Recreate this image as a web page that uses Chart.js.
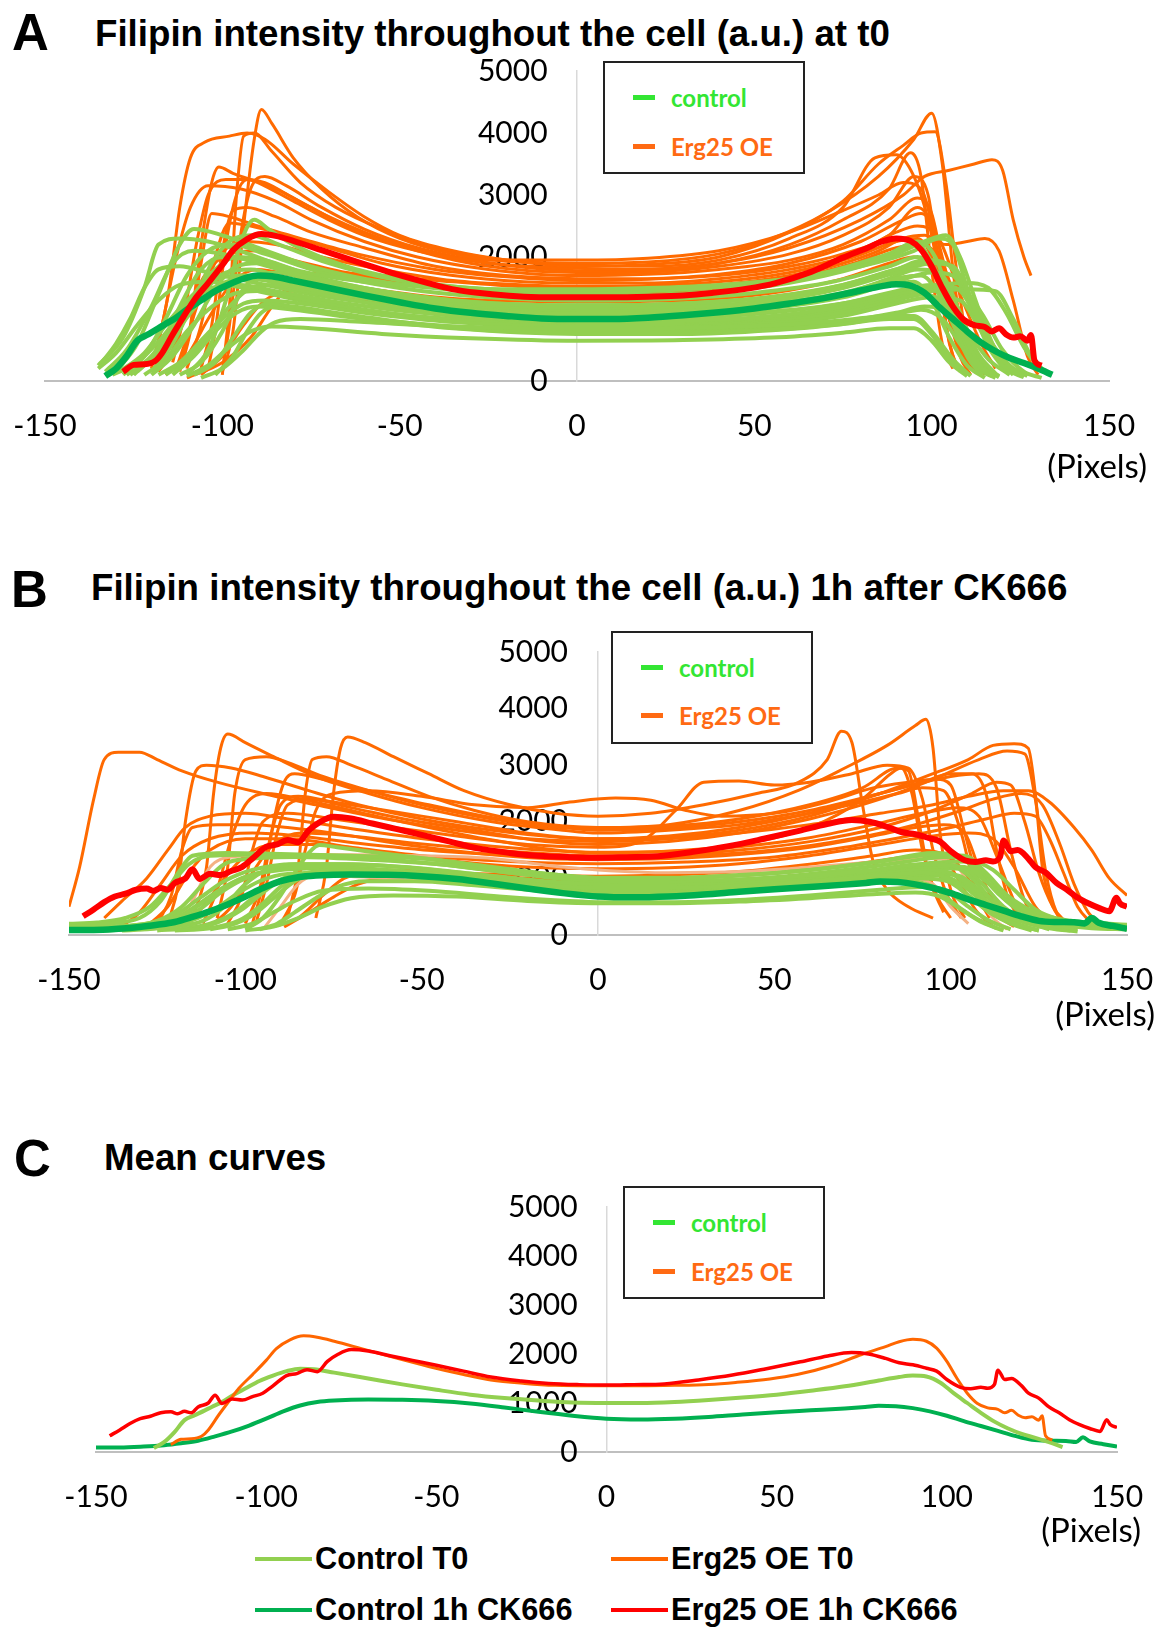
<!DOCTYPE html>
<html>
<head>
<meta charset="utf-8">
<script src="https://cdn.jsdelivr.net/npm/chart.js@4.4.1/dist/chart.umd.min.js"></script>
<style>
  body { margin: 0; background: #fff; }
  #page { position: relative; width: 1157px; height: 1627px; overflow: hidden; background: #fff; }
  #page > * { position: absolute; }
  .letter { font: bold 51px "Liberation Sans", Arial, sans-serif; line-height: 1; color: #000; }
  .title { font: bold 36.7px "Liberation Sans", Arial, sans-serif; line-height: 1; white-space: nowrap; color: #000; }
  .pixels { font: 33px Lato, sans-serif; line-height: 1; color: #000; }
  .legbox { box-sizing: border-box; width: 202px; height: 113px; border: 2px solid #222; background: #fff; }
  .legrow { position: absolute; left: 28px; height: 30px; display: flex; align-items: center; font: bold 24px Lato, sans-serif; white-space: nowrap; }
  .legrow .dash { width: 22px; height: 5px; margin-right: 16px; }
  .keyline { height: 4px; width: 57px; }
  .keytext { font: bold 30.7px "Liberation Sans", Arial, sans-serif; line-height: 1; white-space: nowrap; color: #000; }
</style>
</head>
<body>
<div id="page">
  <div class="letter" style="left:12px;top:7px">A</div>
  <div class="title" style="left:95px;top:16px">Filipin intensity throughout the cell (a.u.) at t0</div>
  <canvas id="chartA" width="1217" height="400" style="left:-30px;top:50px"></canvas>
  <div class="legbox" style="left:603px;top:61px">
    <div class="legrow" style="top:19px;color:#33e633"><span class="dash" style="background:#33e633"></span>control</div>
    <div class="legrow" style="top:68px;color:#ff6a13"><span class="dash" style="background:#ff6a13"></span>Erg25 OE</div>
  </div>
  <div class="pixels" style="right:10px;top:449px">(Pixels)</div>

  <div class="letter" style="left:11px;top:564px">B</div>
  <div class="title" style="left:91px;top:570px">Filipin intensity throughout the cell (a.u.) 1h after CK666</div>
  <canvas id="chartB" width="1217" height="400" style="left:-30px;top:610px"></canvas>
  <div class="legbox" style="left:611px;top:631px">
    <div class="legrow" style="top:19px;color:#33e633"><span class="dash" style="background:#33e633"></span>control</div>
    <div class="legrow" style="top:67px;color:#ff6a13"><span class="dash" style="background:#ff6a13"></span>Erg25 OE</div>
  </div>
  <div class="pixels" style="right:2px;top:997px">(Pixels)</div>

  <div class="letter" style="left:14px;top:1133px">C</div>
  <div class="title" style="left:104px;top:1140px">Mean curves</div>
  <canvas id="chartC" width="1217" height="345" style="left:-30px;top:1170px"></canvas>
  <div class="legbox" style="left:623px;top:1186px">
    <div class="legrow" style="top:19px;color:#33e633"><span class="dash" style="background:#33e633"></span>control</div>
    <div class="legrow" style="top:68px;color:#ff6a13"><span class="dash" style="background:#ff6a13"></span>Erg25 OE</div>
  </div>
  <div class="pixels" style="right:16px;top:1513px">(Pixels)</div>

  <div class="keyline" style="left:255px;top:1557px;background:#92d050"></div>
  <div class="keytext" style="left:315px;top:1544px">Control T0</div>
  <div class="keyline" style="left:611px;top:1557px;background:#ff6600"></div>
  <div class="keytext" style="left:671px;top:1544px">Erg25 OE T0</div>
  <div class="keyline" style="left:255px;top:1608px;background:#00b050"></div>
  <div class="keytext" style="left:315px;top:1595px">Control 1h CK666</div>
  <div class="keyline" style="left:611px;top:1608px;background:#ff0000"></div>
  <div class="keytext" style="left:671px;top:1595px">Erg25 OE 1h CK666</div>
</div>

<script>
const xTickValues = [-150, -100, -50, 0, 50, 100, 150];
const yTickValues = [0, 1000, 2000, 3000, 4000, 5000];

// mean curves, shared by the panels and by C
const meanCtrlT0X = [-133, -130, -127, -124, -121, -118, -116, -113, -110, -106, -102, -98, -94, -90, -86, -80, -70, -60, -50, -40, -30, -20, -10, 0, 10, 20, 30, 40, 50, 60, 70, 80, 86, 90, 94, 98, 102, 106, 110, 114, 118, 122, 126, 130, 134];
const meanCtrlT0 = [80, 200, 400, 650, 750, 850, 920, 1020, 1150, 1300, 1450, 1560, 1650, 1700, 1690, 1620, 1500, 1380, 1270, 1170, 1100, 1050, 1010, 1000, 1000, 1020, 1060, 1110, 1170, 1250, 1340, 1460, 1530, 1560, 1540, 1420, 1200, 1000, 800, 620, 480, 370, 290, 200, 100];

const meanErgT0X = [-128, -125, -122, -119, -117, -114, -111, -108, -104, -100, -97, -93, -89, -85, -80, -72, -62, -52, -42, -34, -24, -15, -5, 0, 10, 20, 30, 38, 48, 56, 66, 75, 82, 86, 90, 94, 97, 100, 103, 106, 109, 112, 115, 117, 119, 121, 123, 125, 127, 128, 129, 131];
const meanErgT0 = [150, 260, 270, 320, 450, 750, 1030, 1300, 1580, 1870, 2110, 2290, 2370, 2340, 2260, 2110, 1920, 1740, 1580, 1470, 1400, 1360, 1350, 1350, 1350, 1360, 1380, 1420, 1490, 1580, 1760, 1990, 2150, 2250, 2300, 2260, 2120, 1850, 1500, 1200, 990, 900, 870, 800, 850, 750, 700, 720, 650, 740, 330, 250];

const meanCtrl1hX = [-150, -143, -136, -130, -125, -120, -115, -110, -105, -100, -95, -90, -85, -80, -70, -60, -50, -40, -30, -20, -10, 0, 10, 20, 30, 40, 50, 60, 70, 76, 80, 85, 90, 95, 100, 105, 110, 115, 120, 125, 130, 135, 138, 140, 142, 146, 150];
const meanCtrl1h = [90, 90, 110, 140, 180, 230, 320, 420, 540, 680, 830, 950, 1020, 1050, 1070, 1065, 1040, 990, 910, 820, 740, 680, 665, 680, 715, 765, 810, 850, 890, 920, 945, 935, 895, 830, 740, 630, 530, 430, 330, 250, 230, 225, 205, 300, 215, 160, 110];

const meanErg1hX = [-146, -143, -140, -137, -134, -131, -128, -126, -124, -122, -120, -117, -115, -113, -110, -107, -104, -101, -98, -94, -91, -88, -85, -82, -79, -75, -70, -64, -57, -50, -42, -34, -25, -17, -8, 0, 8, 17, 27, 37, 47, 57, 65, 72, 77, 82, 86, 90, 94, 97, 100, 104, 107, 110, 112, 114, 115, 117, 119, 122, 124, 127, 130, 133, 136, 139, 142, 145, 147, 148, 150];
const meanErg1h = [330, 450, 580, 680, 730, 800, 820, 780, 830, 800, 920, 1000, 1160, 990, 1080, 1060, 1130, 1200, 1350, 1560, 1600, 1680, 1640, 1850, 1990, 2090, 2060, 1970, 1870, 1770, 1650, 1530, 1450, 1400, 1375, 1365, 1375, 1390, 1470, 1570, 1700, 1840, 1960, 2030, 2000, 1910, 1820, 1780, 1710, 1650, 1480, 1320, 1290, 1320, 1300, 1380, 1670, 1480, 1500, 1350, 1200, 1100, 920, 800, 660, 560, 480, 420, 660, 560, 500];

// panel A, single cells: Erg25 OE
const aErgTraces = [
  [[-100,150],[-97,800],[-94,2500],[-91,3900],[-89,4380],[-86,4150],[-80,3600],[-72,3100],[-62,2650],[-50,2300],[-35,2050],[-20,1930],[0,1900],[20,1920],[40,2050],[55,2300],[70,2700],[85,3300],[95,3900],[100,4320],[103,3500],[106,1800],[109,600],[112,150]],
  [[-118,600],[-115,1500],[-112,2800],[-109,3600],[-105,3850],[-98,3950],[-93,4000],[-88,3900],[-80,3500],[-70,3050],[-60,2650],[-50,2350],[-35,2100],[-20,1950],[0,1850],[20,1880],[40,2000],[60,2400],[75,2900],[85,3500],[92,3800],[97,4000],[101,4020],[104,3200],[107,1800],[110,600],[113,150]],
  [[-100,100],[-98,1200],[-96,3000],[-94,3950],[-91,4000],[-86,3700],[-78,3200],[-68,2800],[-55,2450],[-40,2150],[-20,1950],[0,1880],[20,1850],[40,1950],[60,2300],[75,2800],[84,3600],[90,3650],[95,3300],[99,2600],[103,1500],[107,600],[111,200]],
  [[-112,200],[-109,900],[-106,2200],[-103,3200],[-101,3450],[-97,3350],[-90,3200],[-80,2900],[-70,2600],[-60,2350],[-45,2100],[-25,1900],[0,1820],[20,1800],[40,1900],[60,2200],[75,2600],[88,3100],[94,3680],[97,3300],[100,1800],[103,600],[106,200]],
  [[-114,300],[-111,1000],[-107,2300],[-104,3000],[-99,3250],[-93,3250],[-85,3100],[-75,2800],[-65,2500],[-50,2200],[-30,1950],[0,1780],[20,1800],[40,1900],[60,2150],[80,2600],[92,3000],[98,3300],[105,3400],[112,3500],[117,3570],[120,3400],[123,2600],[126,2000],[128,1700]],
  [[-104,200],[-102,800],[-99,2200],[-96,3000],[-93,3250],[-88,3200],[-80,2950],[-70,2650],[-60,2400],[-45,2100],[-25,1850],[0,1750],[20,1760],[40,1850],[60,2050],[75,2350],[88,2800],[95,3300],[99,3000],[102,1800],[105,600],[108,150]],
  [[-120,200],[-117,900],[-113,2000],[-109,2800],[-104,3150],[-95,3100],[-85,2900],[-75,2600],[-60,2250],[-45,2000],[-25,1800],[0,1700],[20,1720],[40,1800],[60,1950],[75,2200],[88,2600],[96,2950],[100,2700],[104,1600],[108,600],[112,200]],
  [[-106,200],[-103,900],[-100,2100],[-97,2750],[-93,2800],[-85,2650],[-75,2400],[-60,2150],[-40,1850],[-20,1700],[0,1650],[20,1650],[40,1700],[60,1850],[75,2050],[88,2350],[96,2800],[100,2500],[104,1400],[108,400],[111,100]],
  [[-110,200],[-106,900],[-102,2000],[-98,2550],[-92,2500],[-82,2350],[-70,2150],[-55,1900],[-35,1700],[-15,1600],[0,1580],[20,1580],[40,1650],[60,1800],[78,2050],[90,2400],[96,2500],[102,2300],[108,1400],[114,600],[118,200]],
  [[-110,50],[-100,300],[-92,700],[-86,1200],[-80,1600],[-70,1750],[-55,1700],[-35,1600],[-15,1520],[0,1500],[20,1500],[40,1550],[60,1700],[75,1900],[85,2100],[92,2300],[98,2350],[104,2200],[110,2250],[115,2300],[119,2100],[123,1300],[127,400],[130,100]],
  [[-113,200],[-110,700],[-106,1400],[-101,2000],[-94,2250],[-85,2200],[-72,2000],[-55,1800],[-35,1620],[-15,1550],[0,1530],[20,1540],[40,1600],[60,1750],[78,2000],[90,2250],[96,2300],[100,2000],[104,1200],[108,500],[112,150]],
  [[-118,150],[-114,500],[-110,1100],[-105,1700],[-98,2050],[-90,2100],[-80,1950],[-65,1750],[-45,1550],[-20,1450],[0,1420],[20,1430],[40,1500],[60,1650],[78,1900],[90,2150],[97,2200],[103,1900],[108,1100],[113,400],[117,100]],
  [[-106,100],[-100,400],[-94,900],[-88,1300],[-80,1450],[-65,1350],[-45,1200],[-20,1100],[0,1080],[20,1080],[40,1120],[60,1250],[78,1450],[90,1650],[97,1700],[102,1400],[107,700],[112,200]],
  [[-116,100],[-110,400],[-104,1000],[-97,1600],[-90,1800],[-80,1700],[-60,1500],[-35,1330],[0,1280],[30,1300],[55,1420],[75,1650],[88,1900],[95,2000],[100,1800],[105,1000],[110,300]],
  [[-100,150],[-98,900],[-95,2300],[-92,3100],[-88,3300],[-82,3150],[-72,2800],[-60,2450],[-45,2150],[-25,1950],[0,1950],[20,1980],[40,2100],[60,2400],[75,2750],[85,3000],[92,3200],[97,3100],[101,2200],[104,900],[107,200]],
  [[-112,150],[-109,800],[-106,1900],[-103,2700],[-98,2650],[-90,2500],[-78,2300],[-62,2050],[-40,1800],[-20,1680],[0,1620],[20,1640],[40,1720],[60,1900],[80,2250],[92,2600],[97,2700],[101,2400],[106,1300],[111,400],[115,100]]
];

// panel A, single cells: control
const aCtrlTraces = [
  [[-135,250],[-128,700],[-122,1500],[-118,2200],[-112,2300],[-104,2250],[-95,2100],[-80,1800],[-60,1600],[-40,1520],[-20,1480],[0,1480],[20,1500],[40,1550],[60,1650],[80,1850],[95,2100],[102,2300],[106,2200],[110,1500],[115,800],[120,350],[125,100]],
  [[-130,150],[-124,600],[-118,1400],[-112,2200],[-108,2450],[-100,2350],[-90,2150],[-75,1850],[-55,1600],[-30,1450],[0,1380],[25,1400],[50,1500],[70,1700],[88,2000],[98,2250],[104,2350],[108,2000],[113,1200],[118,500],[123,150]],
  [[-110,100],[-104,500],[-99,1300],[-95,2200],[-91,2600],[-87,2450],[-80,2200],[-65,1850],[-45,1600],[-20,1450],[0,1420],[20,1450],[45,1550],[70,1750],[88,2050],[96,2200],[100,1900],[105,1100],[110,400],[114,100]],
  [[-128,100],[-122,400],[-116,1000],[-110,1700],[-104,2100],[-97,2200],[-88,2050],[-72,1750],[-50,1500],[-25,1350],[0,1300],[25,1320],[50,1420],[72,1600],[88,1850],[96,2000],[101,1800],[106,1000],[111,400],[116,100]],
  [[-125,100],[-118,500],[-112,1200],[-106,1800],[-100,2000],[-92,1950],[-80,1750],[-60,1500],[-35,1300],[0,1220],[30,1250],[55,1350],[75,1550],[90,1800],[98,1900],[103,1600],[108,900],[113,300],[118,80]],
  [[-133,150],[-127,500],[-120,1200],[-114,1900],[-108,2100],[-100,2050],[-90,1900],[-75,1650],[-55,1400],[-30,1250],[0,1180],[30,1200],[55,1300],[75,1500],[90,1750],[100,1900],[106,1850],[111,1300],[116,600],[121,200],[126,60]],
  [[-120,100],[-114,400],[-108,900],[-102,1500],[-96,1850],[-90,1900],[-80,1750],[-60,1450],[-35,1250],[0,1150],[30,1150],[55,1250],[75,1420],[90,1650],[97,1700],[102,1400],[107,800],[112,300],[117,80]],
  [[-112,100],[-106,300],[-100,800],[-95,1400],[-90,1700],[-84,1750],[-75,1600],[-55,1350],[-30,1150],[0,1080],[30,1100],[55,1180],[75,1350],[88,1550],[95,1600],[100,1300],[105,700],[110,250],[115,50]],
  [[-126,100],[-120,350],[-113,800],[-106,1300],[-99,1600],[-92,1650],[-82,1550],[-62,1350],[-35,1150],[0,1050],[30,1050],[55,1120],[75,1250],[90,1450],[100,1550],[107,1500],[112,1100],[117,500],[122,150]],
  [[-131,100],[-124,300],[-117,700],[-110,1200],[-103,1500],[-95,1550],[-85,1450],[-65,1250],[-40,1080],[0,980],[30,980],[55,1050],[75,1200],[90,1400],[100,1500],[108,1480],[114,1100],[120,500],[126,150],[131,50]],
  [[-106,50],[-100,200],[-94,500],[-89,800],[-85,950],[-78,1000],[-60,950],[-35,880],[0,850],[30,860],[55,900],[75,980],[88,1050],[95,1050],[100,800],[106,350],[111,80]],
  [[-118,100],[-112,300],[-106,650],[-100,1000],[-94,1250],[-88,1300],[-78,1250],[-60,1100],[-35,950],[0,880],[30,880],[55,930],[75,1050],[90,1250],[100,1350],[108,1300],[113,900],[118,400],[123,100]],
  [[-122,100],[-116,350],[-110,800],[-104,1150],[-97,1400],[-90,1450],[-80,1350],[-60,1150],[-35,980],[0,900],[30,900],[55,960],[75,1100],[90,1300],[98,1400],[104,1200],[109,700],[114,250],[119,60]],
  [[-135,200],[-130,450],[-124,900],[-118,1300],[-112,1550],[-104,1600],[-94,1500],[-78,1300],[-55,1100],[-30,980],[0,920],[30,930],[55,1000],[75,1150],[90,1350],[100,1450],[110,1480],[118,1450],[123,1000],[128,400],[133,100]],
  [[-108,100],[-102,300],[-97,700],[-92,1100],[-87,1250],[-80,1200],[-62,1050],[-35,860],[0,780],[30,780],[55,830],[75,920],[88,1000],[95,1000],[100,750],[105,350],[110,100]],
  [[-114,100],[-108,400],[-102,800],[-96,1100],[-90,1200],[-80,1150],[-60,1000],[-35,850],[0,760],[30,760],[55,820],[75,920],[88,1050],[97,1150],[103,1000],[108,600],[113,200],[118,50]],
  [[-124,150],[-118,500],[-112,1000],[-106,1400],[-99,1750],[-92,1800],[-82,1650],[-62,1400],[-38,1200],[0,1100],[30,1120],[55,1220],[75,1400],[88,1650],[96,1800],[103,1700],[108,1100],[113,450],[118,120]],
  [[-102,100],[-97,400],[-93,800],[-89,1100],[-85,1200],[-76,1150],[-58,1000],[-35,880],[0,820],[30,820],[55,870],[75,960],[90,1100],[98,1200],[104,1150],[110,800],[116,350],[122,100]],
  [[-129,150],[-122,450],[-116,900],[-109,1350],[-102,1650],[-94,1700],[-84,1600],[-65,1400],[-40,1230],[0,1130],[30,1140],[55,1230],[75,1380],[90,1600],[100,1750],[106,1700],[111,1200],[116,550],[121,150]],
  [[-116,100],[-110,350],[-104,750],[-98,1200],[-92,1500],[-86,1550],[-76,1450],[-58,1250],[-35,1050],[0,950],[30,960],[55,1030],[75,1180],[90,1400],[98,1500],[104,1350],[109,800],[114,300],[119,80]],
  [[-110,80],[-104,250],[-98,550],[-92,800],[-86,880],[-75,850],[-55,760],[-30,690],[0,650],[30,660],[55,700],[75,780],[88,850],[95,850],[100,650],[105,300],[110,80]],
  [[-127,100],[-120,400],[-114,900],[-108,1400],[-102,1800],[-96,2000],[-88,1950],[-75,1700],[-55,1450],[-30,1280],[0,1220],[30,1250],[55,1360],[75,1550],[90,1800],[98,1950],[104,1900],[110,1400],[116,700],[122,250],[127,80]],
  [[-120,150],[-114,600],[-108,1300],[-103,1900],[-98,2250],[-92,2350],[-84,2200],[-70,1900],[-50,1620],[-25,1480],[0,1450],[25,1470],[50,1560],[72,1750],[88,2050],[96,2250],[101,2000],[106,1200],[111,450],[116,100]],
  [[-134,300],[-130,600],[-126,1000],[-122,1500],[-118,1800],[-112,1850],[-104,1750],[-92,1600],[-75,1400],[-50,1200],[-25,1050],[0,1000],[25,1010],[50,1080],[72,1220],[90,1420],[102,1550],[110,1580],[116,1500],[121,1100],[126,550],[131,150]]
];

// panel B, single cells: Erg25 OE
const bErgTraces = [
  [[-150,500],[-147,1200],[-143,2400],[-140,3100],[-136,3230],[-130,3230],[-125,3100],[-118,2900],[-108,2700],[-95,2500],[-80,2300],[-60,2050],[-40,1850],[-20,1700],[0,1650],[20,1700],[40,1800],[60,1950],[80,2150],[95,2300],[105,2450],[115,2550],[122,2550],[128,2350],[135,1900],[140,1500],[145,1000],[150,700]],
  [[-115,300],[-111,1200],[-109,2500],[-107,3300],[-105,3550],[-100,3400],[-92,3150],[-80,2800],[-65,2500],[-50,2250],[-30,2000],[-10,1850],[0,1800],[20,1850],[40,1950],[60,2150],[75,2350],[85,2500],[92,2600],[98,2550],[103,1800],[107,800],[111,300]],
  [[-80,300],[-77,1200],[-75,2500],[-73,3300],[-71,3500],[-66,3400],[-58,3150],[-48,2850],[-38,2550],[-25,2300],[-12,2150],[0,2100],[15,2150],[30,2300],[45,2500],[57,2700],[65,3100],[69,3600],[72,3400],[75,2300],[78,1300],[82,800],[88,500],[95,300]],
  [[-108,300],[-105,1200],[-103,2500],[-100,3100],[-94,3150],[-88,3050],[-78,2800],[-65,2550],[-50,2300],[-30,2050],[-10,1900],[0,1880],[20,1920],[40,2050],[60,2300],[75,2600],[85,2950],[88,2900],[91,2000],[94,1000],[98,400]],
  [[-122,200],[-119,900],[-117,2000],[-114,2900],[-111,3000],[-104,2950],[-95,2800],[-82,2550],[-68,2300],[-50,2050],[-30,1850],[-10,1720],[0,1700],[20,1750],[40,1900],[60,2150],[80,2500],[100,2800],[108,2850],[113,2600],[117,1500],[121,600],[125,200]],
  [[-88,300],[-85,1200],[-83,2500],[-81,3100],[-77,3150],[-70,3000],[-60,2750],[-48,2450],[-35,2200],[-20,2000],[0,1900],[20,1950],[40,2200],[57,2560],[70,2950],[82,3350],[90,3700],[93,3810],[95,3300],[97,1800],[100,800],[104,300]],
  [[-125,200],[-121,700],[-118,1500],[-115,1900],[-108,1950],[-98,1950],[-88,1900],[-75,1800],[-55,1600],[-35,1450],[-15,1350],[0,1330],[20,1350],[40,1420],[60,1550],[78,1750],[90,1900],[98,1950],[104,1800],[109,1000],[114,400],[118,150]],
  [[-100,200],[-96,800],[-93,1700],[-90,2300],[-85,2450],[-75,2350],[-60,2200],[-40,2000],[-20,1800],[0,1700],[20,1720],[40,1850],[60,2100],[80,2500],[95,2850],[105,3100],[112,3350],[118,3380],[122,3300],[124,2500],[126,1200],[129,500],[133,200]],
  [[-97,200],[-94,900],[-91,1800],[-88,2300],[-82,2400],[-70,2250],[-55,2050],[-35,1850],[-15,1650],[0,1600],[20,1650],[40,1800],[60,2050],[80,2400],[95,2750],[108,3100],[116,3250],[121,3200],[124,2400],[127,1100],[130,400],[134,150]],
  [[-112,200],[-108,800],[-104,1700],[-100,2300],[-94,2500],[-84,2400],[-70,2200],[-52,1950],[-32,1700],[-12,1500],[0,1450],[20,1480],[40,1600],[60,1900],[75,2400],[83,2850],[86,2950],[89,2500],[92,1500],[96,700],[100,300]],
  [[-90,200],[-86,700],[-83,1500],[-80,2200],[-75,2500],[-65,2550],[-50,2450],[-35,2300],[-20,2250],[-8,2350],[5,2420],[15,2380],[25,2200],[35,2100],[50,2150],[65,2350],[78,2600],[88,2700],[96,2750],[100,2650],[104,1800],[108,900],[112,350]],
  [[-105,200],[-101,700],[-98,1500],[-95,2000],[-88,2150],[-75,2050],[-58,1900],[-40,1750],[-20,1600],[0,1550],[12,1650],[22,2200],[30,2700],[40,2720],[50,2650],[60,2700],[72,2850],[82,3000],[88,2950],[92,2400],[95,1500],[99,700],[103,300]],
  [[-92,150],[-85,300],[-78,700],[-72,1000],[-60,1150],[-40,1100],[-20,1000],[0,970],[20,990],[40,1050],[60,1150],[78,1300],[92,1400],[100,1350],[106,900],[112,400],[118,150]],
  [[-118,150],[-112,500],[-106,1000],[-100,1400],[-92,1600],[-80,1600],[-60,1450],[-40,1300],[-20,1200],[0,1170],[20,1190],[40,1260],[60,1400],[80,1600],[95,1750],[105,1800],[112,1700],[118,1200],[124,500],[130,150]],
  [[-128,150],[-122,500],[-116,1100],[-110,1500],[-100,1700],[-88,1700],[-70,1550],[-50,1400],[-25,1300],[0,1260],[25,1290],[50,1380],[70,1550],[88,1750],[100,1900],[110,2050],[118,2150],[124,2100],[128,1700],[132,1100],[136,500],[140,200]],
  [[-135,150],[-130,400],[-124,900],[-118,1400],[-110,1700],[-98,1800],[-85,1750],[-68,1620],[-45,1480],[-20,1400],[0,1380],[25,1400],[50,1500],[72,1700],[90,1950],[103,2200],[112,2400],[120,2500],[126,2300],[131,1600],[135,900],[139,400],[143,150]],
  [[-140,300],[-135,600],[-128,1000],[-122,1500],[-117,1900],[-110,2100],[-100,2150],[-88,2050],[-72,1900],[-52,1720],[-30,1570],[-10,1480],[0,1460],[20,1480],[40,1560],[60,1720],[78,1950],[92,2150],[102,2250],[108,2100],[113,1400],[118,600],[122,200]],
  [[-110,150],[-104,500],[-98,1100],[-92,1600],[-84,1800],[-70,1750],[-52,1620],[-30,1500],[-10,1420],[0,1400],[20,1420],[40,1500],[60,1650],[80,1900],[95,2200],[106,2500],[113,2700],[117,2650],[121,2000],[125,1100],[129,500],[133,200]],
  [[-89,140],[-82,400],[-75,670],[-68,900],[-55,1050],[-35,1080],[-15,1050],[0,1040],[20,1060],[40,1120],[60,1250],[78,1400],[90,1500],[97,1450],[102,1000],[107,450],[112,150]],
  [[-98,200],[-95,900],[-92,2000],[-89,2700],[-86,2850],[-78,2750],[-65,2550],[-48,2300],[-28,2050],[-10,1900],[0,1850],[20,1880],[40,2000],[60,2200],[80,2500],[92,2700],[100,2850],[106,2850],[110,2500],[113,1500],[116,700],[120,250]]
];

// panel B, faint salmon cells
const bPaleTraces = [
  [[-120,100],[-115,600],[-110,1200],[-104,1380],[-90,1420],[-70,1420],[-50,1400],[-30,1350],[-10,1200],[0,1150],[20,1100],[40,1120],[60,1200],[80,1300],[95,1350],[102,1200],[107,700],[112,300],[116,100]],
  [[-95,100],[-90,500],[-85,900],[-80,1050],[-60,1000],[-35,900],[0,800],[30,800],[55,850],[75,950],[88,1000],[95,900],[100,500],[105,200]]
];

// panel B, single cells: control
const bCtrlTraces = [
  [[-150,150],[-140,200],[-130,300],[-124,600],[-119,1100],[-115,1400],[-105,1450],[-90,1430],[-70,1400],[-50,1350],[-30,1200],[-10,1050],[0,1000],[20,1000],[40,1050],[60,1150],[80,1300],[95,1420],[104,1400],[110,1100],[116,700],[122,400],[130,250],[140,180],[150,150]],
  [[-145,100],[-135,150],[-125,250],[-118,500],[-112,900],[-106,1250],[-98,1350],[-85,1380],[-65,1330],[-45,1250],[-25,1100],[-5,980],[0,960],[20,950],[40,980],[60,1050],[78,1150],[92,1250],[100,1230],[106,1000],[112,600],[118,350],[126,200],[135,120]],
  [[-130,100],[-120,150],[-112,250],[-106,500],[-100,900],[-94,1150],[-85,1250],[-72,1250],[-55,1200],[-35,1080],[-15,950],[0,900],[20,900],[40,940],[60,1020],[80,1150],[95,1250],[103,1200],[109,900],[115,500],[121,250],[128,100]],
  [[-120,80],[-110,120],[-102,250],[-96,500],[-90,850],[-85,1050],[-75,1150],[-58,1120],[-40,1020],[-20,900],[0,840],[20,840],[40,880],[60,950],[80,1050],[92,1100],[99,1000],[105,700],[111,400],[118,200],[125,80]],
  [[-96,100],[-91,200],[-86,400],[-80,650],[-74,850],[-66,950],[-52,950],[-35,880],[-15,780],[0,740],[20,740],[40,780],[60,850],[78,920],[88,950],[95,850],[101,550],[107,300],[113,120]],
  [[-150,200],[-142,220],[-134,300],[-127,500],[-121,900],[-116,1250],[-110,1400],[-100,1420],[-85,1400],[-65,1350],[-45,1250],[-25,1100],[-5,960],[10,930],[30,950],[50,1020],[70,1150],[88,1300],[98,1380],[104,1350],[110,1050],[116,700],[124,400],[134,250],[145,200],[150,180]],
  [[-138,100],[-128,150],[-120,250],[-113,450],[-107,750],[-100,1000],[-92,1150],[-80,1200],[-62,1150],[-42,1050],[-22,930],[0,860],[20,860],[40,900],[60,980],[80,1080],[93,1150],[100,1100],[106,850],[112,500],[118,280],[126,150],[134,80]],
  [[-110,100],[-104,180],[-98,350],[-92,650],[-86,950],[-80,1100],[-68,1150],[-50,1100],[-30,980],[-10,860],[0,820],[20,820],[40,860],[60,940],[80,1050],[92,1120],[100,1080],[106,800],[112,450],[118,220],[124,100]],
  [[-148,120],[-138,150],[-128,200],[-120,350],[-113,650],[-106,950],[-98,1150],[-86,1250],[-70,1250],[-52,1180],[-32,1050],[-12,920],[0,880],[20,880],[40,920],[60,1000],[80,1120],[95,1220],[104,1200],[110,950],[116,600],[122,350],[130,200],[140,120],[150,100]],
  [[-125,80],[-116,120],[-108,220],[-101,450],[-95,750],[-89,1000],[-80,1100],[-64,1080],[-45,980],[-25,860],[-5,760],[0,740],[20,740],[40,780],[60,850],[80,950],[92,1000],[99,950],[105,700],[111,400],[117,200],[123,80]],
  [[-100,80],[-92,150],[-85,300],[-78,500],[-70,650],[-58,700],[-40,680],[-20,600],[0,560],[20,560],[40,590],[60,650],[78,720],[90,750],[97,680],[103,450],[109,220],[115,80]],
  [[-135,80],[-125,120],[-117,220],[-110,400],[-103,700],[-96,950],[-88,1080],[-74,1100],[-56,1050],[-36,950],[-16,830],[0,790],[20,790],[40,830],[60,900],[80,1000],[94,1080],[102,1050],[108,800],[114,480],[120,250],[128,120],[136,60]],
  [[-150,100],[-140,110],[-130,150],[-122,250],[-115,450],[-108,750],[-101,1000],[-92,1150],[-78,1200],[-60,1150],[-40,1050],[-20,920],[0,860],[20,870],[40,930],[60,1020],[80,1150],[96,1280],[106,1300],[112,1150],[118,800],[124,450],[132,250],[142,150],[150,120]],
  [[-118,100],[-110,200],[-103,400],[-97,700],[-91,950],[-84,1080],[-70,1100],[-52,1050],[-32,940],[-12,820],[0,780],[20,780],[40,820],[60,900],[80,1000],[93,1060],[100,1000],[106,750],[112,420],[118,200],[125,80]],
  [[-105,100],[-98,200],[-92,400],[-86,600],[-78,780],[-65,820],[-48,780],[-28,680],[-8,600],[0,580],[20,580],[40,620],[60,700],[80,800],[92,850],[99,780],[105,500],[111,250],[117,100]],
  [[-100,100],[-95,300],[-90,700],[-86,1100],[-82,1450],[-79,1590],[-74,1550],[-62,1450],[-45,1320],[-25,1150],[-5,1030],[0,1010],[20,1010],[40,1060],[60,1150],[80,1300],[95,1450],[102,1400],[108,1100],[114,700],[120,400],[128,200],[136,100]],
  [[-142,80],[-132,100],[-124,180],[-118,350],[-112,600],[-106,850],[-99,1050],[-90,1150],[-76,1180],[-58,1130],[-38,1030],[-18,910],[0,860],[20,860],[40,900],[60,980],[80,1090],[95,1180],[104,1170],[110,950],[116,620],[122,380],[130,230],[140,160],[148,120]]
];

Chart.defaults.font.family = 'Lato';

function fromPairs(trace) {
  return trace.map(p => ({ x: p[0], y: p[1] }));
}
function fromColumns(xs, vs) {
  return xs.map((x, i) => ({ x: x, y: vs[i] }));
}
function lineSet(points, color, width, order) {
  return {
    data: points,
    borderColor: color,
    borderWidth: width,
    pointRadius: 0,
    fill: false,
    cubicInterpolationMode: 'monotone',
    order: order
  };
}

// labelAt: where the value labels sit (a little left of the zero line, like Excel)
function drawPanel(id, pad, labelAt, datasets) {
  const tickFont = { family: 'Lato', size: 30 };
  return new Chart(document.getElementById(id), {
    type: 'line',
    data: { datasets: datasets },
    options: {
      responsive: false,
      animation: false,
      devicePixelRatio: 1,
      events: [],
      layout: { padding: pad },
      plugins: { legend: { display: false }, tooltip: { enabled: false } },
      scales: {
        x: {
          type: 'linear', min: -150, max: 150,
          afterBuildTicks: s => { s.ticks = xTickValues.map(v => ({ value: v })); },
          afterFit: s => { s.height = 62; },
          grid: { display: false, drawTicks: false },
          border: { color: '#bfbfbf', width: 2 },
          ticks: { font: tickFont, color: '#000', padding: 27, maxRotation: 0, autoSkip: false, callback: v => String(v) }
        },
        zeroLine: {
          type: 'linear', axis: 'y', min: 0, max: 5000, position: { x: 0 },
          grid: { display: false, drawTicks: false },
          border: { color: '#d9d9d9', width: 1.5 },
          ticks: { display: false, padding: 0 }
        },
        y: {
          type: 'linear', min: 0, max: 5000, position: { x: labelAt }, z: 1,
          afterBuildTicks: s => { s.ticks = yTickValues.map(v => ({ value: v })); },
          grid: { display: false, drawTicks: false },
          border: { display: false },
          ticks: { font: tickFont, color: '#000', padding: 0, autoSkip: false, callback: v => String(v) }
        }
      }
    }
  });
}

// A
const setsA = [
  lineSet(fromColumns(meanErgT0X, meanErgT0), '#ff0000', 6, 0),
  lineSet(fromColumns(meanCtrlT0X, meanCtrlT0), '#00b050', 6.5, 1)
];
aCtrlTraces.forEach(t => setsA.push(lineSet(fromPairs(t), '#92d050', 4, 2)));
aErgTraces.forEach(t => setsA.push(lineSet(fromPairs(t), '#ff6a00', 3, 3)));
drawPanel('chartA', { left: 75, right: 78, top: 21, bottom: 7 }, -8.3, setsA);

// B
const setsB = [
  lineSet(fromColumns(meanErg1hX, meanErg1h), '#ff0000', 6, 0),
  lineSet(fromColumns(meanCtrl1hX, meanCtrl1h), '#00b050', 6.5, 1)
];
bCtrlTraces.forEach(t => setsB.push(lineSet(fromPairs(t), '#92d050', 4, 2)));
bPaleTraces.forEach(t => setsB.push(lineSet(fromPairs(t), '#f4b183', 3, 3)));
bErgTraces.forEach(t => setsB.push(lineSet(fromPairs(t), '#ff6a00', 3, 4)));
drawPanel('chartB', { left: 99, right: 60, top: 42, bottom: 13 }, -8.5, setsB);

// C
drawPanel('chartC', { left: 126, right: 70, top: 37, bottom: 1 }, -8.5, [
  lineSet(fromColumns(meanErg1hX, meanErg1h), '#ff0000', 3.5, 0),
  lineSet(fromColumns(meanErgT0X, meanErgT0), '#ff6600', 3, 1),
  lineSet(fromColumns(meanCtrlT0X, meanCtrlT0), '#92d050', 4, 2),
  lineSet(fromColumns(meanCtrl1hX, meanCtrl1h), '#00b050', 4, 3)
]);
</script>
</body>
</html>
